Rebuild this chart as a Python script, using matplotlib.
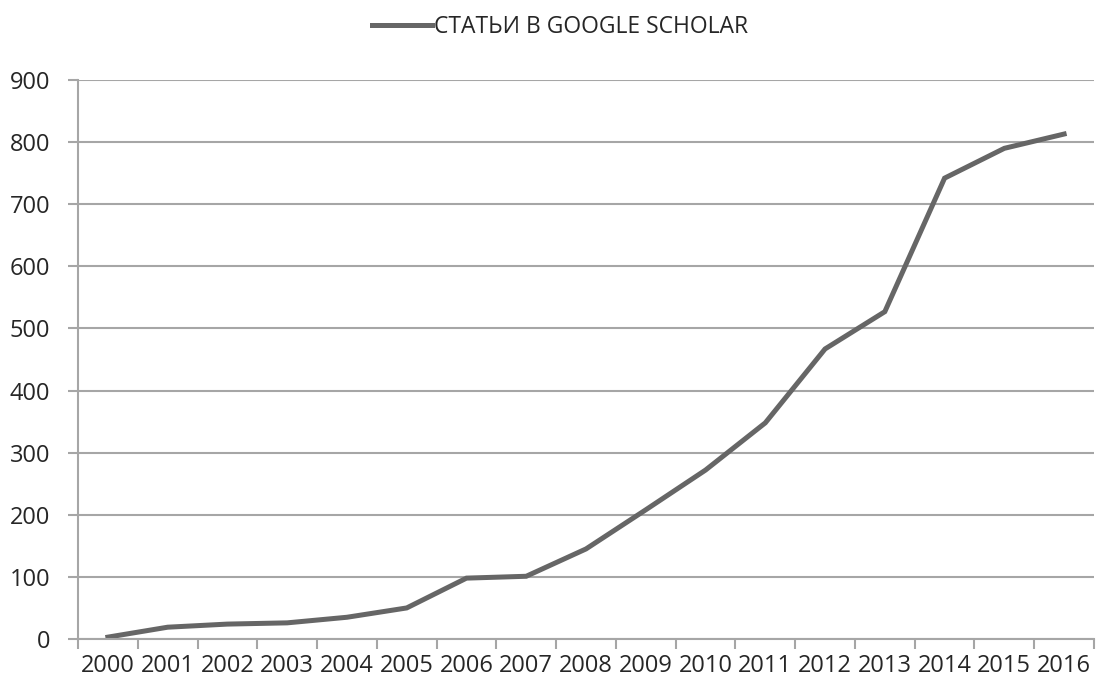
import numpy as np
import matplotlib
matplotlib.use("Agg")
import matplotlib.pyplot as plt

plt.rcParams['font.family'] = ['Open Sans', 'DejaVu Sans']

# Число статей по годам
years = ['2000', '2001', '2002', '2003', '2004', '2005', '2006', '2007', '2008',
         '2009', '2010', '2011', '2012', '2013', '2014', '2015', '2016']
articles = [3, 19, 24, 26, 35, 50, 98, 101, 145, 208, 272, 348, 467, 527, 742, 790, 813]
y_ticks = [0, 100, 200, 300, 400, 500, 600, 700, 800, 900]
series_name = 'СТАТЬИ В GOOGLE SCHOLAR'

line_color = '#666666'
grid_color = '#a6a6a6'
text_color = '#262626'

fig = plt.figure(figsize=(10.96, 6.85), dpi=100)
ax = fig.add_axes([78 / 1096, 1 - 639 / 685, (1094 - 78) / 1096, (639 - 80) / 685])

x = np.arange(len(years))
ax.plot(x, articles, color=line_color, lw=3.6, solid_joinstyle='miter',
        label=series_name)

ax.set_xlim(-0.5, len(years) - 0.5)
ax.set_ylim(0, 900)
ax.set_yticks(y_ticks)
ax.set_yticklabels([str(v) for v in y_ticks], fontsize=17, color=text_color)
ax.yaxis.grid(True, color=grid_color, lw=1.5)
ax.set_axisbelow(True)
ax.tick_params(axis='y', length=7, width=1.5, color=grid_color, pad=13)

# Подписи годов по центрам категорий, засечки — на границах
ax.set_xticks(x)
ax.set_xticklabels(years, fontsize=17, color=text_color)
ax.set_xticks(np.arange(len(years) + 1) - 0.5, minor=True)
ax.tick_params(axis='x', which='major', length=0, pad=11)
ax.tick_params(axis='x', which='minor', length=7, width=1.5, color=grid_color)

for side in ['top', 'right']:
    ax.spines[side].set_visible(False)
for side in ['left', 'bottom']:
    ax.spines[side].set_color(grid_color)
    ax.spines[side].set_linewidth(1.5)

leg = fig.legend(loc='center', bbox_to_anchor=(560 / 1096, 1 - 27 / 685),
                 frameon=False, fontsize=16.5, handlelength=2.6, handletextpad=0.1)
for t in leg.get_texts():
    t.set_color(text_color)

fig.savefig('out.png', dpi=100)
